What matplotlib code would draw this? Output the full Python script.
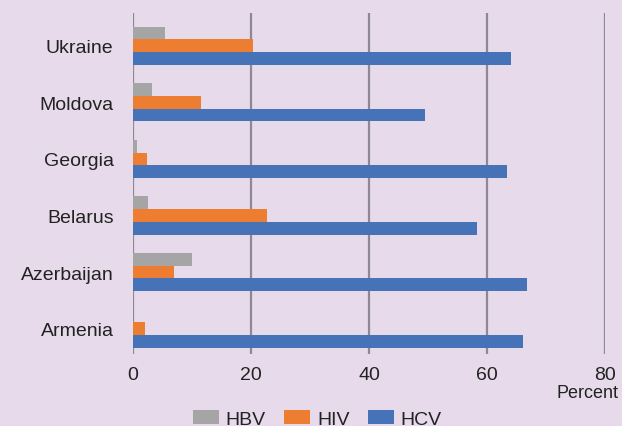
import matplotlib
matplotlib.use("Agg")
import matplotlib.pyplot as plt
import numpy as np

countries = ["Armenia", "Azerbaijan", "Belarus", "Georgia", "Moldova", "Ukraine"]
hbv = [0.0, 10.0, 2.5, 0.7, 3.2, 5.4]
hiv = [2.0, 6.9, 22.7, 2.4, 11.5, 20.3]
hcv = [66.1, 66.8, 58.3, 63.4, 49.5, 64.1]
xticks = [0, 20, 40, 60, 80]

bg = "#e7dbeb"
c_hbv = "#a5a5a5"
c_hiv = "#ed7d31"
c_hcv = "#4672b8"
gridc = "#8e8893"
txtc = "#222222"

plt.rcParams['font.family'] = ['Liberation Sans', 'DejaVu Sans']

fig = plt.figure(figsize=(6.22, 4.27), dpi=100, facecolor=bg)
ax = fig.add_axes([133/622, 1-355/427, (605-133)/622, (355-14)/427])
ax.set_facecolor(bg)

y = np.arange(len(countries))
h = 0.225
ax.barh(y + h, hbv, height=h, color=c_hbv, label="HBV", zorder=3)
ax.barh(y, hiv, height=h, color=c_hiv, label="HIV", zorder=3)
ax.barh(y - h, hcv, height=h, color=c_hcv, label="HCV", zorder=3)

ax.set_xlim(0, 80)
ax.set_ylim(-0.45, 5.58)
ax.set_xticks(xticks)
ax.set_xticklabels([str(v) for v in xticks], fontsize=14, color=txtc)
ax.set_yticks(y)
ax.set_yticklabels(countries, fontsize=14, color=txtc)
ax.tick_params(axis='y', length=0, pad=14)
ax.tick_params(axis='x', length=0, pad=9)
for s in ax.spines.values():
    s.set_visible(False)
for v in xticks:
    ax.axvline(v, color=gridc, lw=1.6, zorder=1)

fig.text(619/622, 1-394/427, "Percent", ha='right', va='center', fontsize=13, color=txtc)

handles, labels = ax.get_legend_handles_labels()
leg = fig.legend(handles, labels, loc='center', bbox_to_anchor=(0.51, 1-420/427),
                 ncol=3, frameon=False, fontsize=14, handlelength=1.34, handleheight=0.72,
                 columnspacing=0.93, handletextpad=0.36, borderpad=0, borderaxespad=0)
for t in leg.get_texts():
    t.set_color(txtc)

fig.savefig("out.png", dpi=100, facecolor=bg)
